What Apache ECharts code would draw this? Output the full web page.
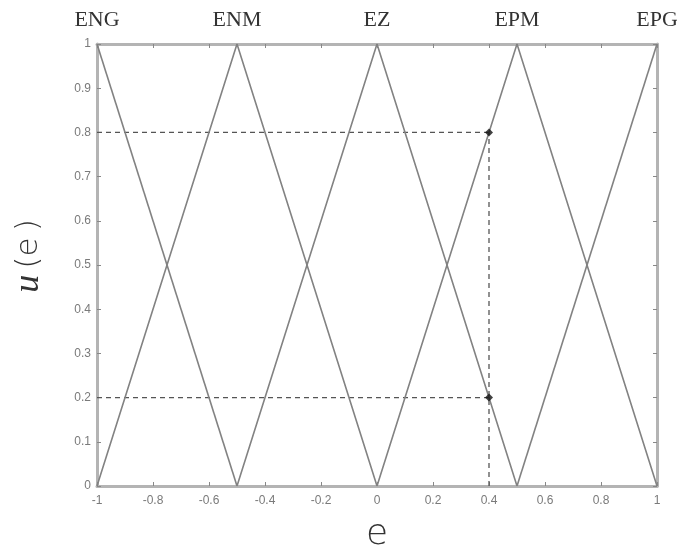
<!DOCTYPE html>
<html>
<head>
<meta charset="utf-8">
<script src="https://cdn.jsdelivr.net/npm/echarts@6/dist/echarts.min.js"></script>
<style>html,body{margin:0;padding:0;background:#fff;}#c{width:677px;height:545px;}</style>
</head>
<body>
<div id="c"></div>
<script>
// Fuzzy set membership functions (x = e, y = u(e))
const ENG = [[-1, 1], [-0.5, 0]];
const ENM = [[-1, 0], [-0.5, 1], [0, 0]];
const EZ  = [[-0.5, 0], [0, 1], [0.5, 0]];
const EPM = [[0, 0], [0.5, 1], [1, 0]];
const EPG = [[0.5, 0], [1, 1]];
const guideHigh = [[-1, 0.8], [0.4, 0.8]];
const guideLow  = [[-1, 0.2], [0.4, 0.2]];
const guideVert = [[0.4, 0], [0.4, 0.8]];
const markedPoints = [[0.4, 0.8], [0.4, 0.2]];
const setNames = ['ENG', 'ENM', 'EZ', 'EPM', 'EPG'];
const setCenters = [-1, -0.5, 0, 0.5, 1];

const chart = echarts.init(document.getElementById('c'), null, {renderer: 'canvas'});
const axisGrey = '#b4b4b4';
const lineGrey = '#828282';
const labelStyle = {color: '#7a7a7a', fontFamily: 'Liberation Sans, Arial, sans-serif', fontSize: 12};

function tri(data) {
  return {type: 'line', data: data, symbol: 'none', silent: true,
    lineStyle: {color: lineGrey, width: 1.6}, xAxisIndex: 0, yAxisIndex: 0, z: 3};
}
function guide(data) {
  return {type: 'line', data: data, symbol: 'none', silent: true,
    lineStyle: {color: '#555', width: 1.3, type: [5, 4]}, xAxisIndex: 0, yAxisIndex: 0, z: 2};
}

chart.setOption({
  animation: false,
  backgroundColor: '#fff',
  grid: {left: 97, right: 20, top: 44, bottom: 59, containLabel: false, outerBoundsMode: 'none'},
  xAxis: [
    {type: 'value', min: -1, max: 1, interval: 0.2, position: 'bottom',
     name: 'e', nameLocation: 'middle', nameGap: 31,
     nameTextStyle: {fontFamily: 'DejaVu Sans, sans-serif', fontWeight: 200, fontSize: 36, color: '#333'},
     axisLine: {show: true, onZero: false, lineStyle: {color: axisGrey, width: 3}},
     axisTick: {show: true, inside: true, length: 4, lineStyle: {color: '#888', width: 1}},
     axisLabel: Object.assign({margin: 9, showMinLabel: true, showMaxLabel: true,
       formatter: v => String(Math.round(v * 10) / 10)}, labelStyle),
     splitLine: {show: false}},
    {type: 'value', min: -1, max: 1, interval: 0.2, position: 'top',
     axisLine: {show: true, onZero: false, lineStyle: {color: axisGrey, width: 3}},
     axisTick: {show: true, inside: true, length: 4, lineStyle: {color: '#888', width: 1}},
     axisLabel: {show: false}, splitLine: {show: false}},
    {type: 'value', min: -1, max: 1, interval: 0.5, position: 'top',
     axisLine: {show: false}, axisTick: {show: false}, splitLine: {show: false},
     axisLabel: {show: true, margin: 13, showMinLabel: true, showMaxLabel: true,
       fontFamily: 'Liberation Serif, Times New Roman, serif', fontSize: 22, color: '#333',
       formatter: v => { const i = setCenters.findIndex(c => Math.abs(c - v) < 1e-6); return i >= 0 ? setNames[i] : ''; }}}
  ],
  yAxis: [
    {type: 'value', min: 0, max: 1, interval: 0.1, position: 'left',
     name: '{u|u}{p|\u2009(e\u2009)}', nameLocation: 'middle', nameGap: 50, nameRotate: 90,
     nameTextStyle: {padding: [0, 0, 0, 18], rich: {
       u: {fontFamily: 'Liberation Serif, Times New Roman, serif', fontStyle: 'italic', fontSize: 36, color: '#333'},
       p: {fontFamily: 'DejaVu Sans, sans-serif', fontWeight: 200, fontSize: 31, color: '#333'}}},
     axisLine: {show: true, onZero: false, lineStyle: {color: axisGrey, width: 3}},
     axisTick: {show: true, inside: true, length: 4, lineStyle: {color: '#888', width: 1}},
     axisLabel: Object.assign({margin: 6, showMinLabel: true, showMaxLabel: true,
       formatter: v => String(Math.round(v * 10) / 10)}, labelStyle),
     splitLine: {show: false}},
    {type: 'value', min: 0, max: 1, interval: 0.1, position: 'right',
     axisLine: {show: true, onZero: false, lineStyle: {color: axisGrey, width: 3}},
     axisTick: {show: true, inside: true, length: 4, lineStyle: {color: '#888', width: 1}},
     axisLabel: {show: false}, splitLine: {show: false}}
  ],
  series: [
    tri(ENG), tri(ENM), tri(EZ), tri(EPM), tri(EPG),
    guide(guideHigh), guide(guideLow), guide(guideVert),
    {type: 'scatter', data: markedPoints, symbol: 'diamond', symbolSize: 8,
     itemStyle: {color: '#111'}, xAxisIndex: 0, yAxisIndex: 0, z: 5, silent: true}
  ]
});
</script>
</body>
</html>
